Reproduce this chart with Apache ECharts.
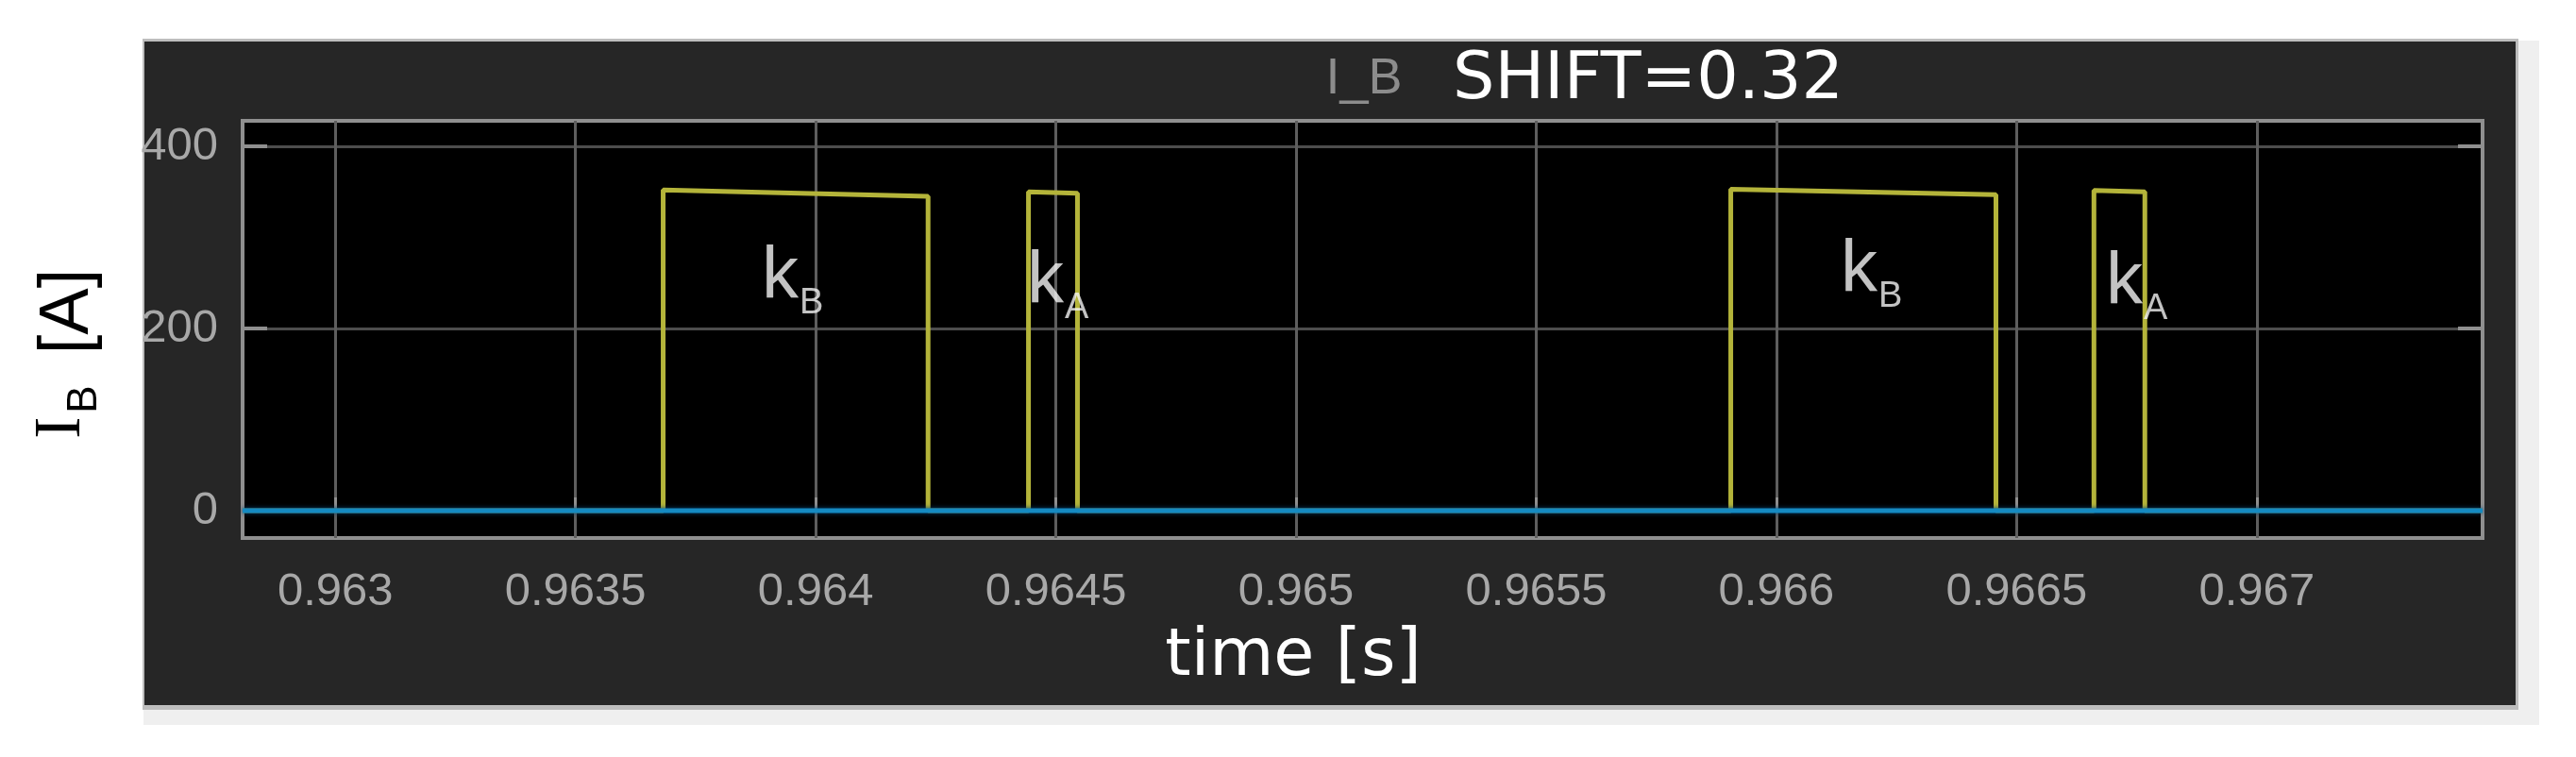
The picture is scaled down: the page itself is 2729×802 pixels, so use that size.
<!DOCTYPE html>
<html>
<head>
<meta charset="utf-8">
<script src="https://cdn.jsdelivr.net/npm/echarts@6/dist/echarts.min.js"></script>
<style>
html,body{margin:0;padding:0;background:#ffffff;}
#chart{width:2729px;height:802px;}
</style>
</head>
<body>
<div id="chart"></div>
<script>
// ---- tick labels ----
const xTickValues = [0.963, 0.9635, 0.964, 0.9645, 0.965, 0.9655, 0.966, 0.9665, 0.967];
const xTickLabels = ['0.963', '0.9635', '0.964', '0.9645', '0.965', '0.9655', '0.966', '0.9665', '0.967'];
const yTickValues = [0, 200, 400];
const yTickLabels = ['0', '200', '400'];
const xRange = [0.962807, 0.96747];
const yRange = [-30, 428];

// ---- switch current I_B (yellow trace) ----
const switchTime = [0.962807, 0.9636825, 0.9636825, 0.964234, 0.964234, 0.964443, 0.964443, 0.964545, 0.964545,
                    0.965905, 0.965905, 0.966457, 0.966457, 0.966661, 0.966661, 0.966767, 0.966767, 0.96747];
const switchCurrent = [0, 0, 352, 345, 0, 0, 350, 348.5, 0,
                       0, 353, 347, 0, 0, 351.5, 350, 0, 0];

// ---- blue trace (flat) ----
const baseTime = [0.962807, 0.96747];
const baseCurrent = [0, 0];

// ---- annotations ----
const annTime = [0.963888, 0.964440, 0.966134, 0.966686];
const annCurrent = [255, 250, 262.5, 249];
const annMain = ['k', 'k', 'k', 'k'];
const annSub = ['B', 'A', 'B', 'A'];

function lookup(vals, labels, v) {
  const i = vals.findIndex(t => Math.abs(t - v) < 1e-7);
  return i >= 0 ? labels[i] : '';
}

const chart = echarts.init(document.getElementById('chart'), null, {renderer: 'canvas'});

const labelFont = {color: '#a8a8a8', fontFamily: 'Liberation Sans', fontSize: 49};

const option = {
  animation: false,
  backgroundColor: '#ffffff',
  graphic: [
    {type: 'rect', z: -100, silent: true, shape: {x: 152, y: 43, width: 2538, height: 725}, style: {fill: '#efefef'}},
    {type: 'rect', z: -99, silent: true, shape: {x: 151, y: 41, width: 2517, height: 711}, style: {fill: '#bdbdbd'}},
    {type: 'rect', z: -98, silent: true, shape: {x: 153, y: 44, width: 2512, height: 703}, style: {fill: '#262626'}},
    {type: 'text', z: 10, silent: true, style: {text: 'I_B', x: 1445, y: 84, align: 'center', verticalAlign: 'middle', font: '54px "Liberation Sans"', fill: '#8c8c8c'}},
    {type: 'text', z: 10, silent: true, style: {text: 'SHIFT=0.32', x: 1539, y: 86, align: 'left', verticalAlign: 'middle', font: '70px "DejaVu Sans"', fill: '#ffffff'}},
    {type: 'text', z: 10, silent: true, style: {text: 'time [s]', x: 1370, y: 697, align: 'center', verticalAlign: 'middle', font: '70px "DejaVu Sans"', fill: '#ffffff'}},
    {type: 'text', z: 10, silent: true, x: 66, y: 453, rotation: Math.PI / 2, style: {text: 'I', x: 0, y: 0, align: 'center', verticalAlign: 'middle', font: '70px "Liberation Serif"', fill: '#000000'}},
    {type: 'text', z: 10, silent: true, x: 90, y: 423, rotation: Math.PI / 2, style: {text: 'B', x: 0, y: 0, align: 'center', verticalAlign: 'middle', font: '44px "Liberation Sans"', fill: '#000000'}},
    {type: 'text', z: 10, silent: true, x: 73, y: 330, rotation: Math.PI / 2, style: {text: '[A]', x: 0, y: 0, align: 'center', verticalAlign: 'middle', font: '74px "Liberation Sans"', fill: '#000000'}}
  ],
  grid: {
    left: 257, right: 99, top: 128, bottom: 232,
    show: true, backgroundColor: '#000000', borderColor: '#8f8f8f', borderWidth: 4
  },
  xAxis: {
    type: 'value', min: xRange[0], max: xRange[1],
    axisLine: {show: false},
    axisTick: {show: true, inside: true, length: 14, customValues: xTickValues, lineStyle: {color: '#8f8f8f', width: 3}},
    axisLabel: Object.assign({show: true, margin: 33, customValues: xTickValues,
      formatter: v => lookup(xTickValues, xTickLabels, v)}, labelFont),
    splitLine: {show: true, lineStyle: {color: '#5e5e5e', width: 3}}
  },
  yAxis: [{
    type: 'value', min: yRange[0], max: yRange[1],
    axisLine: {show: false},
    axisTick: {show: true, inside: true, length: 26, customValues: yTickValues, lineStyle: {color: '#8f8f8f', width: 4}},
    axisLabel: Object.assign({show: true, margin: 26, padding: [12, 0, 0, 0], customValues: yTickValues,
      formatter: v => lookup(yTickValues, yTickLabels, v)}, labelFont),
    splitLine: {show: true, lineStyle: {color: '#4d4d4d', width: 3}}
  }, {
    type: 'value', min: yRange[0], max: yRange[1], position: 'right',
    axisLine: {show: false},
    axisTick: {show: true, inside: true, length: 26, customValues: yTickValues, lineStyle: {color: '#8f8f8f', width: 4}},
    axisLabel: {show: false},
    splitLine: {show: false}
  }],
  series: [
    {
      type: 'line', name: 'I_B switch', silent: true, z: 2,
      data: switchTime.map((t, i) => [t, switchCurrent[i]]),
      showSymbol: false, symbol: 'none',
      lineStyle: {color: '#b4b43a', width: 5}
    },
    {
      type: 'line', name: 'I_B base', silent: true, z: 3,
      data: baseTime.map((t, i) => [t, baseCurrent[i]]),
      showSymbol: false, symbol: 'none',
      lineStyle: {color: '#158ac2', width: 5, shadowColor: '#08406e', shadowBlur: 5}
    },
    {
      type: 'scatter', silent: true, z: 5, symbolSize: 1,
      itemStyle: {color: 'rgba(0,0,0,0)'},
      data: annTime.map((t, i) => [t, annCurrent[i]]),
      label: {show: true, position: 'inside', align: 'left', verticalAlign: 'middle',
        color: '#f4f4f4', fontFamily: 'Liberation Sans', fontSize: 78,
        formatter: p => annMain[p.dataIndex]}
    },
    {
      type: 'scatter', silent: true, z: 5, symbolSize: 1,
      itemStyle: {color: 'rgba(0,0,0,0)'},
      data: annTime.map((t, i) => [t, annCurrent[i]]),
      label: {show: true, position: 'inside', align: 'left', verticalAlign: 'middle', offset: [40, 27],
        color: '#f4f4f4', fontFamily: 'Liberation Sans', fontSize: 38,
        formatter: p => annSub[p.dataIndex]}
    }
  ]
};
chart.setOption(option);
</script>
</body>
</html>
